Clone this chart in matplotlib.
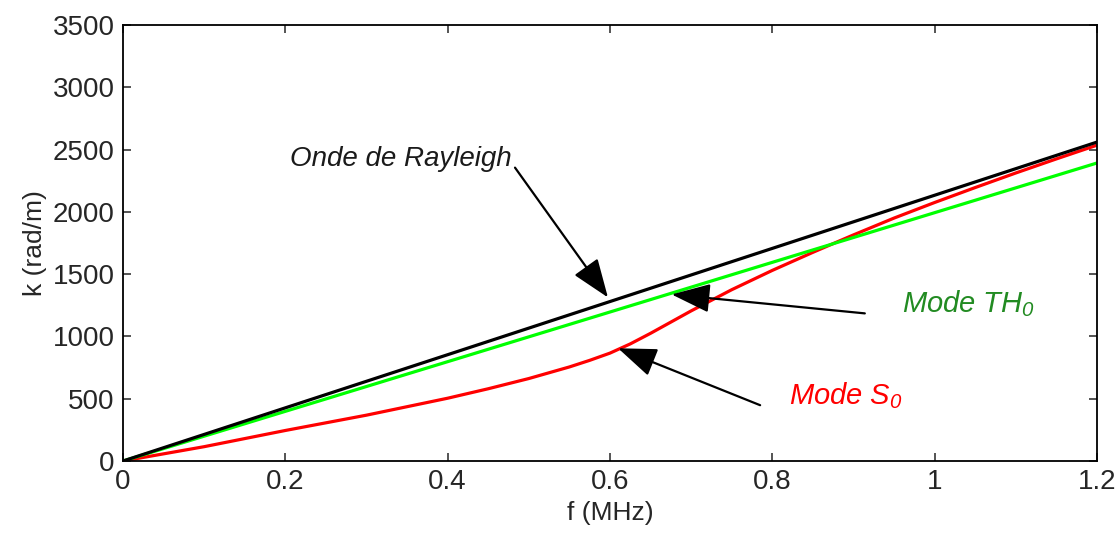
import matplotlib
matplotlib.use('Agg')
import matplotlib.pyplot as plt
import numpy as np

plt.rcParams.update({
    'font.family': ['Liberation Sans', 'DejaVu Sans'],
    'mathtext.fontset': 'custom',
    'mathtext.rm': 'Liberation Sans:italic',
    'mathtext.it': 'Liberation Sans:italic',
    'mathtext.default': 'it',
})

# Dispersion curves (f in MHz, k in rad/m)
f_lin = [0.0, 1.2]
k_rayleigh = [0.0, 2560.0]
k_th0 = [0.0, 2392.0]

f_s0 = [0.0, 0.1, 0.2, 0.3, 0.4, 0.45, 0.5, 0.55, 0.575, 0.6, 0.625, 0.65,
        0.675, 0.7, 0.75, 0.8, 0.85, 0.9, 0.95, 1.0, 1.05, 1.1, 1.15, 1.2]
k_s0 = [0.0, 115.0, 245.0, 368.0, 504.0, 580.0, 662.0, 755.0, 808.0, 866.0,
        940.0, 1025.0, 1115.0, 1205.0, 1375.0, 1530.0, 1675.0, 1815.0,
        1950.0, 2075.0, 2195.0, 2312.0, 2425.0, 2535.0]

x_ticks = [0, 0.2, 0.4, 0.6, 0.8, 1.0, 1.2]
x_labels = ['0', '0.2', '0.4', '0.6', '0.8', '1', '1.2']
y_ticks = [0, 500, 1000, 1500, 2000, 2500, 3000, 3500]

fig = plt.figure(figsize=(11.19, 5.35), dpi=100)
ax = fig.add_axes([0.1099, 0.1383, 0.8704, 0.815])

ax.plot(f_s0, k_s0, color='#ff0000', linewidth=2.3)
ax.plot(f_lin, k_th0, color='#00ff00', linewidth=2.3)
ax.plot(f_lin, k_rayleigh, color='black', linewidth=2.3)

ax.set_xlim(0, 1.2)
ax.set_ylim(0, 3500)
ax.set_xticks(x_ticks)
ax.set_xticklabels(x_labels)
ax.set_yticks(y_ticks)
ax.tick_params(direction='in', length=6, width=1.1, top=True, right=True,
               labelsize=20, colors='#262626', pad=6)
for s in ax.spines.values():
    s.set_linewidth(1.3)
ax.set_xlabel('f (MHz)', fontsize=19, color='#262626', labelpad=4)
ax.set_ylabel('k (rad/m)', fontsize=19, color='#262626', labelpad=4)

arrow = dict(arrowstyle='-|>,head_length=0.8,head_width=0.3',
             color='black', linewidth=1.6, mutation_scale=30,
             shrinkA=0, shrinkB=0)

ax.annotate('', xy=(0.5975, 1313), xytext=(0.483, 2355), arrowprops=arrow)
ax.text(0.479, 2427, 'Onde de Rayleigh', fontsize=20, style='italic',
        ha='right', va='center', color='#1a1a1a')

ax.annotate('', xy=(0.676, 1337), xytext=(0.914, 1185), arrowprops=arrow)
ax.text(0.96, 1262, r'$Mode\ TH_0$', fontsize=21, ha='left', va='center',
        color='#228b22')

ax.annotate('', xy=(0.61, 905), xytext=(0.785, 448), arrowprops=arrow)
ax.text(0.821, 527, r'$Mode\ S_0$', fontsize=21, ha='left', va='center',
        color='#ff0000')

fig.savefig('out.png', dpi=100)
